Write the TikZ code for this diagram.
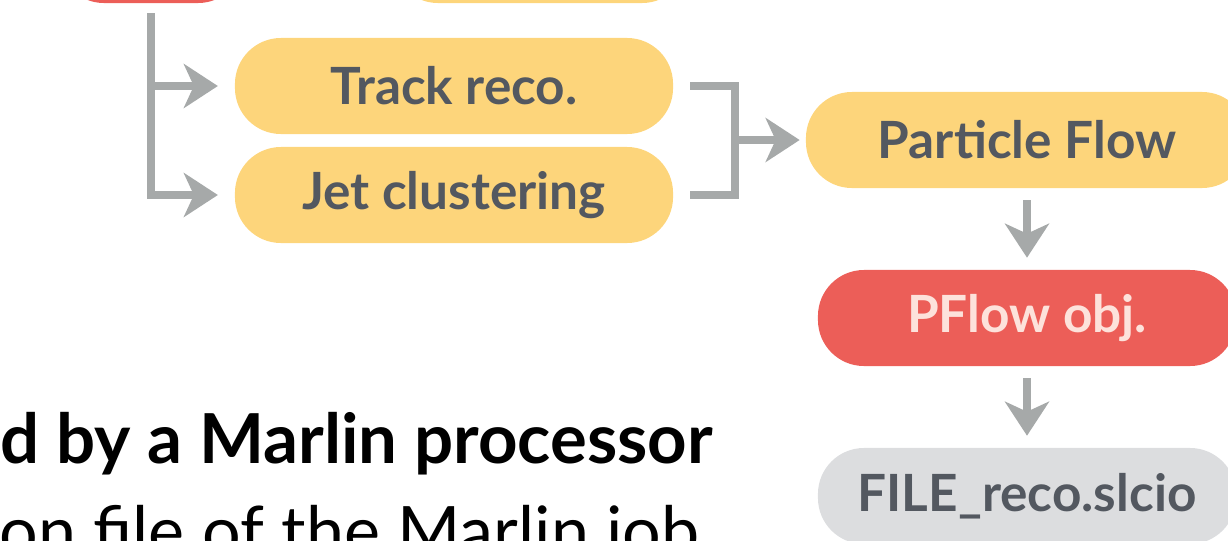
\documentclass[tikz,border=0pt]{standalone}
\usepackage{fontspec}
\setmainfont{Lato}
\usetikzlibrary{arrows.meta, positioning}
\definecolor{boxyellow}{HTML}{FDD57B}
\definecolor{boxred}{HTML}{EC5E58}
\definecolor{boxgray}{HTML}{DCDDDF}
\definecolor{txtgray}{HTML}{535860}
\definecolor{txtpink}{HTML}{FDE2DB}
\definecolor{linegray}{HTML}{A6A9A9}
\tikzstyle{stage} = [rectangle, rounded corners=1.15cm, text centered, inner sep=0pt, minimum height=2.4cm, text=txtgray, font=\bfseries\fontsize{36.5}{42}\selectfont]
\tikzstyle{yellowbox} = [stage, fill=boxyellow]
\tikzstyle{redbox} = [stage, fill=boxred, text=txtpink]
\tikzstyle{filebox} = [stage, fill=boxgray]
\tikzstyle{line} = [draw=linegray, line width=0.18cm, line join=miter]
\tikzstyle{arrow} = [line, -{Stealth[length=0.85cm, width=1.1cm, inset=0.25cm]}]

\begin{document}
\begin{tikzpicture}[x=0.025cm, y=-0.025cm]
\useasboundingbox (0,0) rectangle (1228,540);
\clip (0,0) rectangle (1228,540);
% boxes
\node (rawobj) [redbox, minimum width=4.65cm] at (151,-45) {};
\node (simstep) [yellowbox, minimum width=7.4cm] at (540,-45) {};
\node (track) [yellowbox, minimum width=10.95cm] at (454,86) {Track reco.};
\node (jet) [yellowbox, minimum width=10.95cm] at (454,195) {Jet clustering};
\node (pandora) [yellowbox, minimum width=11.05cm] at (1027,140) {Particle Flow};
\node (pfo) [redbox, minimum width=10.45cm] at (1027,318) {PFlow obj.};
\node (outfile) [filebox, minimum width=10.45cm] at (1027,496) {FILE\_reco.slcio};
\coordinate (merge) at (735,140);

% slide text
\node (proc) [anchor=base west, inner sep=0pt, font=\bfseries\fontsize{49}{54}\selectfont] at (0,463) {d by a Marlin processor};
\node (steer) [anchor=base east, inner sep=0pt, font=\fontsize{48.5}{54}\selectfont] at (700,555) {on file of the Marlin job};

% connectors
\draw [arrow, shorten <=0.25cm, shorten >=0.42cm] (rawobj.south) |- (track.west);
\draw [arrow, shorten <=0.25cm, shorten >=0.42cm] (rawobj.south) |- (jet.west);
\draw [line, shorten <=0.42cm] (track.east) -| (merge);
\draw [line, shorten <=0.42cm] (jet.east) -| (merge);
\draw [arrow, shorten >=0.15cm] (merge) -- (pandora.west);
\draw [arrow, shorten <=0.3cm, shorten >=0.3cm] (pandora) -- (pfo);
\draw [arrow, shorten <=0.3cm, shorten >=0.3cm] (pfo) -- (outfile);
\end{tikzpicture}
\end{document}
